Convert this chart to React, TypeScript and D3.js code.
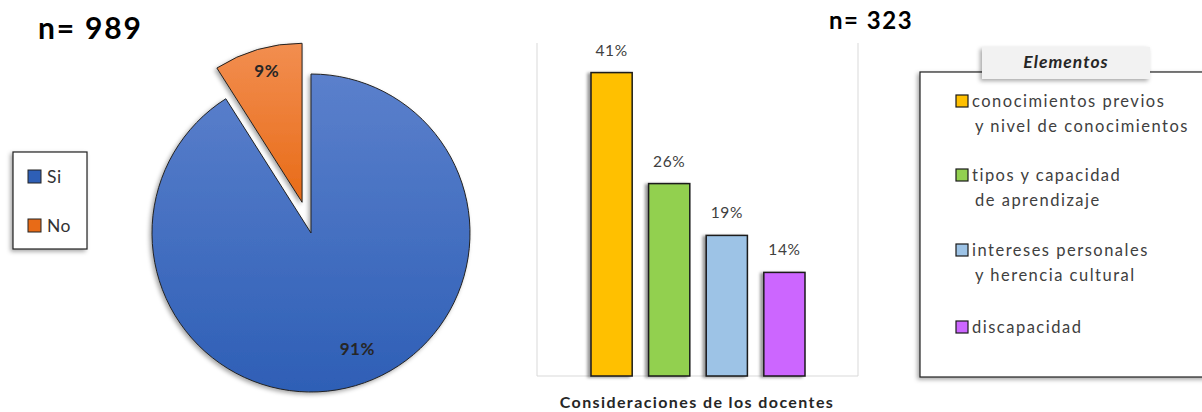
import React from "react";
import * as d3 from "d3";

const pieLabels = ["Si", "No"];
const pieValues = [91, 9];
const pieColors = [["#5b80cc", "#2e5fb6"], ["#f28e50", "#e86b17"]];

const barCategories = [
  "conocimientos previos y nivel de conocimientos",
  "tipos y capacidad de aprendizaje",
  "intereses personales y herencia cultural",
  "discapacidad",
];
const barValues = [41, 26, 19, 14];
const barColors = ["#ffc000", "#92d050", "#9dc3e6", "#cc66ff"];
const legendLines = [
  ["conocimientos previos", "y nivel de conocimientos"],
  ["tipos  y capacidad", "de aprendizaje"],
  ["intereses personales", "y herencia cultural"],
  ["discapacidad"],
];

const FONT = "Lato, 'Open Sans', sans-serif";

export default function App() {
  const W = 1202, H = 412;
  // pie
  const cx = 311, cy = 233, r = 159, explode = 32;
  const pie = d3.pie<number>().sort(null).value((d) => d)(pieValues);
  const arc = d3.arc<d3.PieArcDatum<number>>().innerRadius(0).outerRadius(r);
  const labelR = [124, 136];
  const labelNudge = [-0.1, 0.02];

  // bars
  const x = d3.scaleBand<number>().domain(barValues.map((_, i) => i)).range([591, 805]).paddingInner(0.285).paddingOuter(0);
  const y = d3.scaleLinear().domain([0, 45]).range([376, 43]);

  return (
    <svg width={W} height={H} style={{ display: "block", position: "absolute", left: 0, top: 0 }}>
      <defs>
        {pieColors.map((c, i) => (
          <linearGradient key={i} id={`pg${i}`} x1="0" y1="0" x2="0" y2="1">
            <stop offset="0" stopColor={c[0]} />
            <stop offset="1" stopColor={c[1]} />
          </linearGradient>
        ))}
        <filter id="sh" x="-20%" y="-20%" width="140%" height="140%">
          <feDropShadow dx="-2" dy="2" stdDeviation="2" floodColor="#000" floodOpacity="0.35" />
        </filter>
        <filter id="shb" x="-20%" y="-20%" width="140%" height="140%">
          <feDropShadow dx="-3" dy="1" stdDeviation="1.5" floodColor="#000" floodOpacity="0.4" />
        </filter>
      </defs>
      <rect width={W} height={H} fill="#fff" />

      {/* Pie */}
      <text x={38} y={39} fontFamily={FONT} fontWeight="bold" fontSize={30} fill="#000" letterSpacing="1.8">n= 989</text>
      {pie.map((d, i) => {
        const mid = (d.startAngle + d.endAngle) / 2;
        const off = i === 1 ? explode : 0;
        const tx = cx + Math.sin(mid) * off;
        const ty = cy - Math.cos(mid) * off;
        const la = mid + labelNudge[i];
        const lx = Math.sin(la) * labelR[i];
        const ly = -Math.cos(la) * labelR[i];
        return (
          <g key={i} transform={`translate(${tx},${ty})`}>
            <path d={arc(d) || ""} fill={`url(#pg${i})`} stroke="#222" strokeWidth={1} filter="url(#sh)" />
            <text x={lx} y={ly} textAnchor="middle" dominantBaseline="central" fontFamily={FONT} fontWeight="bold" fontSize={17} fill="#262626" letterSpacing="0.5">
              {pieValues[i]}%
            </text>
          </g>
        );
      })}
      {/* pie legend */}
      <rect x={13} y={152} width={74} height={97} fill="#fff" stroke="#222" strokeWidth={1.2} filter="url(#sh)" />
      {pieLabels.map((l, i) => (
        <g key={l}>
          <rect x={28} y={170 + i * 49} width={13} height={13} fill={pieColors[i][1]} stroke="#222" strokeWidth={1} />
          <text x={47} y={176 + i * 49} dominantBaseline="central" fontFamily={FONT} fontSize={17.5} fill="#333" letterSpacing="0.5">{l}</text>
        </g>
      ))}

      {/* Bar chart */}
      <text x={829} y={29} fontFamily={FONT} fontWeight="bold" fontSize={24} fill="#000" letterSpacing="1.5">n= 323</text>
      <path d={`M537,43V376H858V43`} fill="none" stroke="#d9d9d9" strokeWidth={1} />
      {barValues.map((v, i) => (
        <g key={i}>
          <rect x={x(i)} y={y(v)} width={x.bandwidth()} height={376 - y(v)} fill={barColors[i]} stroke="#1a1a1a" strokeWidth={1.5} filter="url(#shb)" />
          <text x={(x(i) || 0) + x.bandwidth() / 2} y={y(v) - 23} textAnchor="middle" dominantBaseline="central" fontFamily={FONT} fontSize={15.5} fill="#404040" letterSpacing="0.6">
            {v}%
          </text>
        </g>
      ))}
      <text x={697} y={408} textAnchor="middle" fontFamily={FONT} fontWeight="bold" fontSize={16} fill="#262626" letterSpacing="1.4">
        Consideraciones de los docentes
      </text>

      {/* Right legend */}
      <rect x={920} y={72} width={300} height={305} fill="#fff" stroke="#222" strokeWidth={1.2} filter="url(#sh)" />
      <rect x={982} y={47} width={168} height={32} fill="#f2f2f2" filter="url(#sh)" />
      <text x={1066} y={61} textAnchor="middle" dominantBaseline="central" fontFamily={FONT} fontStyle="italic" fontWeight="bold" fontSize={17.5} fill="#262626" letterSpacing="1">Elementos</text>
      {legendLines.map((lines, i) => {
        const tops = [101, 175, 250, 327];
        return (
          <g key={i}>
            <rect x={956} y={tops[i] - 6} width={12} height={12} fill={barColors[i]} stroke="#1a1a1a" strokeWidth={1.2} />
            {lines.map((t, j) => (
              <text key={j} x={j === 0 ? 972 : 975} y={tops[i] + j * 25} dominantBaseline="central" fontFamily={FONT} fontSize={16.5} fill="#404040" letterSpacing="1.5">
                {t}
              </text>
            ))}
          </g>
        );
      })}
    </svg>
  );
}
